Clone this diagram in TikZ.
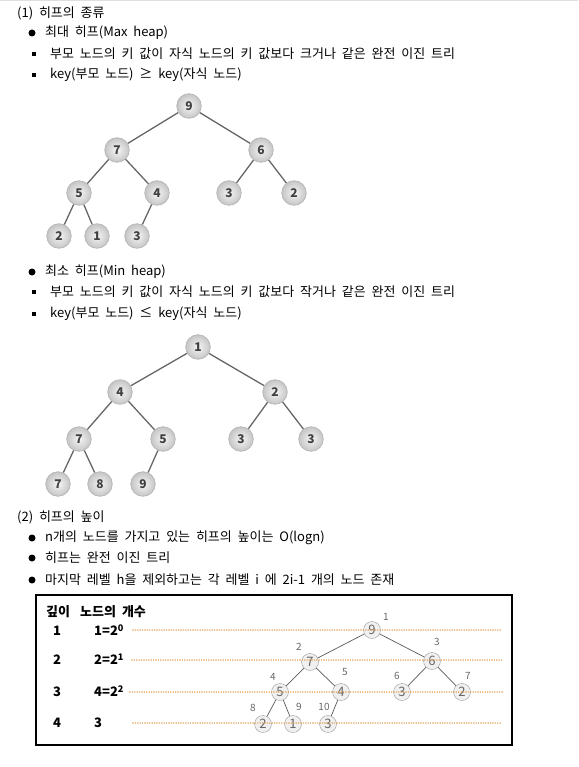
\documentclass[tikz,border=0pt]{standalone}
\usepackage{fontspec}
\setmainfont{Noto Sans CJK KR}[WordSpace=2]
\definecolor{levelorange}{RGB}{228,160,85}

\begin{document}
\begin{tikzpicture}
[
x=1pt, y=-1pt,
% plain lines of text
txt/.style={
anchor=west, inner sep=0pt,
font=\fontsize{13}{15}\selectfont
},
boxtxt/.style={
anchor=west, inner sep=0pt,
font=\fontsize{13}{15}\selectfont\bfseries
},
% the list marks
dotmark/.style={circle, fill=black, inner sep=0pt, minimum size=7pt},
sqmark/.style={rectangle, fill=black, inner sep=0pt, minimum size=4.5pt},
% the shaded heap nodes
heapnode/.style={
circle, inner sep=0pt, minimum size=24.5pt,
draw=gray!55, thick,
inner color=gray!8, % light in the middle...
outer color=gray!45, % and darker at the rim
text=black!75,
font=\fontsize{12}{12}\selectfont\bfseries
},
heapedge/.style={line width=1.3pt, draw=black!60},
% the small nodes in the box
smallnode/.style={
circle, inner sep=0pt, minimum size=17pt,
draw=gray!80, fill=gray!12, text=black!60,
font=\fontsize{13}{13}\selectfont
},
smalledge/.style={line width=0.7pt, draw=black!65},
idx/.style={inner sep=0pt, text=black!60, font=\fontsize{10}{10}\selectfont},
level/.style={draw=levelorange, line width=1.6pt, line cap=round, dash pattern=on 0pt off 2.4pt}
]
\useasboundingbox (0,0) rectangle (578,767);
\draw[gray!25, line width=1.5pt] (0,0.75) -- (578,0.75);

% (1) kinds of heap
\node[txt] (t1) at (17,13) {(1) 히프의 종류};
\node[dotmark] (m1) at (32,33) {};
\node[txt] (t2) at (45,33) {최대 히프(Max heap)};
\node[sqmark] (s1) at (34,54) {};
\node[txt] (t3) at (50,54) {부모 노드의 키 값이 자식 노드의 키 값보다 크거나 같은 완전 이진 트리};
\node[sqmark] (s2) at (34,75) {};
\node[txt] (t4) at (50,75) {key(부모 노드) ≥ key(자식 노드)};

% max heap
\node[heapnode] (a1) at (189,106) {9};
\node[heapnode] (a2) at (117,150) {7};
\node[heapnode] (a3) at (261,150) {6};
\node[heapnode] (a4) at (79,193) {5};
\node[heapnode] (a5) at (157,193) {4};
\node[heapnode] (a6) at (229,193) {3};
\node[heapnode] (a7) at (294,193) {2};
\node[heapnode] (a8) at (59,236) {2};
\node[heapnode] (a9) at (97,236) {1};
\node[heapnode] (a10) at (137,236) {3};
\draw[heapedge] (a1) -- (a2);
\draw[heapedge] (a1) -- (a3);
\draw[heapedge] (a2) -- (a4);
\draw[heapedge] (a2) -- (a5);
\draw[heapedge] (a3) -- (a6);
\draw[heapedge] (a3) -- (a7);
\draw[heapedge] (a4) -- (a8);
\draw[heapedge] (a4) -- (a9);
\draw[heapedge] (a5) -- (a10);

\node[dotmark] (m2) at (32,272) {};
\node[txt] (t5) at (45,272) {최소 히프(Min heap)};
\node[sqmark] (s3) at (34,292) {};
\node[txt] (t6) at (50,292) {부모 노드의 키 값이 자식 노드의 키 값보다 작거나 같은 완전 이진 트리};
\node[sqmark] (s4) at (34,314) {};
\node[txt] (t7) at (50,314) {key(부모 노드) ≤ key(자식 노드)};

% min heap
\node[heapnode] (b1) at (198,347) {1};
\node[heapnode] (b2) at (120,392) {4};
\node[heapnode] (b3) at (275,392) {2};
\node[heapnode] (b4) at (79,439) {7};
\node[heapnode] (b5) at (163,439) {5};
\node[heapnode] (b6) at (241,439) {3};
\node[heapnode] (b7) at (311,439) {3};
\node[heapnode] (b8) at (58,484) {7};
\node[heapnode] (b9) at (100,484) {8};
\node[heapnode] (b10) at (143,484) {9};
\draw[heapedge] (b1) -- (b2);
\draw[heapedge] (b1) -- (b3);
\draw[heapedge] (b2) -- (b4);
\draw[heapedge] (b2) -- (b5);
\draw[heapedge] (b3) -- (b6);
\draw[heapedge] (b3) -- (b7);
\draw[heapedge] (b4) -- (b8);
\draw[heapedge] (b4) -- (b9);
\draw[heapedge] (b5) -- (b10);

% (2) height of a heap
\node[txt] (t8) at (17,517) {(2) 히프의 높이};
\node[dotmark] (m3) at (32,538) {};
\node[txt] (t9) at (45,538) {n개의 노드를 가지고 있는 히프의 높이는 O(logn)};
\node[dotmark] (m4) at (32,558) {};
\node[txt] (t10) at (45,558) {히프는 완전 이진 트리};
\node[dotmark] (m5) at (32,580) {};
\node[txt] (t11) at (45,580) {마지막 레벨 h을 제외하고는 각 레벨 i 에 2i-1 개의 노드 존재};

% the box
\draw[line width=2pt] (35.5,594.5) rectangle (511.5,745);
\node[boxtxt] (h1) at (46,612) {깊이};
\node[boxtxt] (h2) at (80,612) {노드의 개수};
\node[boxtxt] (r1) at (53,631) {1};
\node[boxtxt] (r2) at (53,660) {2};
\node[boxtxt] (r3) at (53,692) {3};
\node[boxtxt] (r4) at (53,723) {4};
\node[boxtxt] (n1) at (94,630) {1=2\textsuperscript{0}};
\node[boxtxt] (n2) at (94,659) {2=2\textsuperscript{1}};
\node[boxtxt] (n3) at (94,691) {4=2\textsuperscript{2}};
\node[boxtxt] (n4) at (94,723) {3};

\node[smallnode] (c1) at (372,630) {9};
\node[smallnode] (c2) at (310,662) {7};
\node[smallnode] (c3) at (432,661) {6};
\node[smallnode] (c4) at (280,692) {5};
\node[smallnode] (c5) at (341,692) {4};
\node[smallnode] (c6) at (402,692) {3};
\node[smallnode] (c7) at (462,692) {2};
\node[smallnode] (c8) at (263,724) {2};
\node[smallnode] (c9) at (293,724) {1};
\node[smallnode] (c10) at (328,724) {3};
\draw[smalledge] (c1) -- (c2);
\draw[smalledge] (c1) -- (c3);
\draw[smalledge] (c2) -- (c4);
\draw[smalledge] (c2) -- (c5);
\draw[smalledge] (c3) -- (c6);
\draw[smalledge] (c3) -- (c7);
\draw[smalledge] (c4) -- (c8);
\draw[smalledge] (c4) -- (c9);
\draw[smalledge] (c5) -- (c10);

\node[idx] (i1) at (386,617) {1};
\node[idx] (i2) at (299,647) {2};
\node[idx] (i3) at (437,642) {3};
\node[idx] (i4) at (273,677) {4};
\node[idx] (i5) at (345,672) {5};
\node[idx] (i6) at (397,676) {6};
\node[idx] (i7) at (468,676) {7};
\node[idx] (i8) at (253,708) {8};
\node[idx] (i9) at (299,707) {9};
\node[idx] (i10) at (324,707) {10};

% dotted level lines
\coordinate (l1s) at (133,630); \coordinate (l1e) at (502,630);
\coordinate (l2s) at (132,660); \coordinate (l2e) at (502,660);
\coordinate (l3s) at (130,692); \coordinate (l3e) at (502,692);
\coordinate (l4s) at (133,723); \coordinate (l4e) at (502,723);
\draw[level] (l1s) -- (l1e);
\draw[level] (l2s) -- (l2e);
\draw[level] (l3s) -- (l3e);
\draw[level] (l4s) -- (l4e);
\end{tikzpicture}
\end{document}
